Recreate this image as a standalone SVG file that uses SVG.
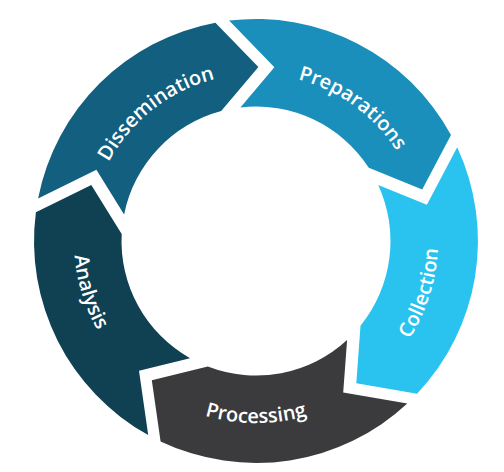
<svg xmlns="http://www.w3.org/2000/svg" width="504" height="472" viewBox="0 0 504 472">
<style>
.lbl{font-family:"Open Sans","Liberation Sans",sans-serif;font-weight:600;font-size:20px;fill:#ffffff}
</style>
<defs>
<path id="pPrep" d="M 229.9,76.1 A 167 167 0 0 1 420.9,214.9"/>
<path id="pDiss" d="M 90.2,220.6 A 167 167 0 0 1 276.4,75.2"/>
<path id="pColl" d="M 340.0,402.4 A 182 182 0 0 0 417.4,157.0"/>
<path id="pProc" d="M 127.3,369.7 A 182 182 0 0 0 384.7,369.7"/>
<path id="pAnal" d="M 95.3,155.6 A 182 182 0 0 0 170.6,401.7"/>
</defs>
<rect width="504" height="472" fill="#ffffff"/>
<g id="preparations">
<path fill="#1a8fbb" d="M 229.1,20.6 A 222 222 0 0 1 451.0,135.0 L 422.2,189.5 L 368.8,167.8 A 134.5 134.5 0 0 0 240.4,107.4 L 274.4,67.2 Z"/>
<text class="lbl"><textPath href="#pPrep" startOffset="50%" text-anchor="middle">Preparations</textPath></text>
</g>
<g id="collection">
<path fill="#2ac3ef" d="M 457.2,147.3 A 222 222 0 0 1 417.1,393.7 L 356.3,383.2 L 360.5,325.7 A 134.5 134.5 0 0 0 378.2,184.9 L 426.9,204.8 Z"/>
<text class="lbl"><textPath href="#pColl" startOffset="50%" text-anchor="middle">Collection</textPath></text>
</g>
<g id="processing">
<path fill="#3b3b3d" d="M 407.3,403.5 A 222 222 0 0 1 160.6,441.4 L 151.8,380.3 L 207.8,366.6 A 134.5 134.5 0 0 0 347.1,340.0 L 343.2,392.4 Z"/>
<text class="lbl"><textPath href="#pProc" startOffset="50%" text-anchor="middle">Processing</textPath></text>
</g>
<g id="analysis">
<path fill="#0f4153" d="M 148.2,435.1 A 222 222 0 0 1 35.9,212.2 L 91.3,184.9 L 121.7,233.9 A 134.5 134.5 0 0 0 190.0,358.2 L 139.0,370.8 Z"/>
<text class="lbl"><textPath href="#pAnal" startOffset="50%" text-anchor="middle">Analysis</textPath></text>
</g>
<g id="dissemination">
<path fill="#135f7f" d="M 38.1,198.5 A 222 222 0 0 1 215.4,22.7 L 258.4,67.0 L 221.2,111.1 A 134.5 134.5 0 0 0 124.1,214.5 L 96.4,169.8 Z"/>
<text class="lbl"><textPath href="#pDiss" startOffset="50%" text-anchor="middle">Dissemination</textPath></text>
</g>
<g id="connectors"></g>
</svg>
